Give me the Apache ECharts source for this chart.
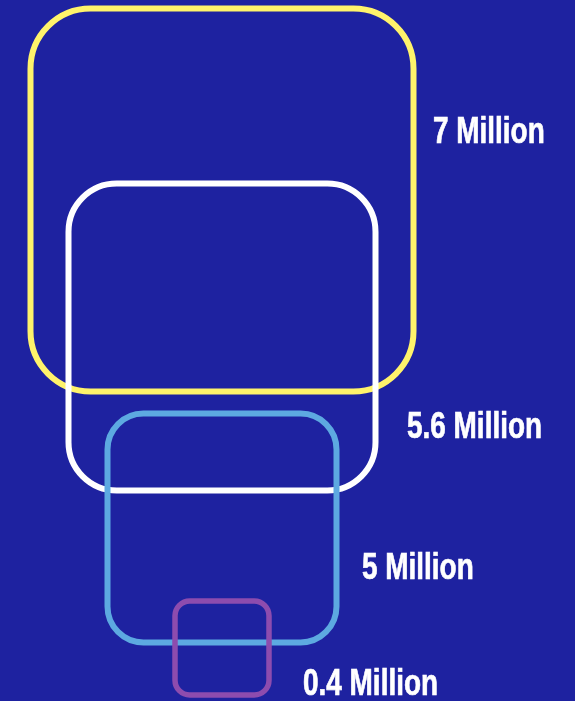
<!DOCTYPE html>
<html>
<head>
<meta charset="utf-8">
<script src="https://cdn.jsdelivr.net/npm/echarts@6/dist/echarts.min.js"></script>
<style>
html,body{margin:0;padding:0;background:#1E22A0;}
#chart{width:575px;height:701px;}
</style>
</head>
<body>
<div id="chart"></div>
<script>
// Labels and values
const labels = ['7 Million', '5.6 Million', '5 Million', '0.4 Million'];
const values = [7, 5.6, 5, 0.4];
// Box extents in hidden-axis units
const boxCenterX = [22.2, 22.2, 22.2, 22.2];
const boxCenterY = [20.0, 33.7, 52.8, 64.8];
const boxSide = [38.3, 30.7, 22.9, 9.4];
// Label anchors in hidden-axis units
const labelX = [43.3, 40.7, 36.2, 30.3];
const labelY = [13.25, 42.75, 56.85, 68.5];
const colors = ['#FFF36B', '#FFFFFF', '#5DA9E1', '#8D4CAE'];

const data = labels.map((l, i) => [boxCenterX[i], boxCenterY[i], boxSide[i], labelX[i], labelY[i], values[i]]);

const chart = echarts.init(document.getElementById('chart'));
chart.setOption({
  backgroundColor: '#1E22A0',
  animation: false,
  grid: {left: 0, right: 0, top: 0, bottom: 0},
  xAxis: {type: 'value', min: 0, max: 57.5, show: false},
  yAxis: {type: 'value', min: 0, max: 70.1, inverse: true, show: false},
  series: [{
    type: 'custom',
    coordinateSystem: 'cartesian2d',
    encode: {x: 0, y: 1},
    data: data,
    renderItem: function (params, api) {
      const i = params.dataIndex;
      const c = api.coord([api.value(0), api.value(1)]);
      const s = api.size([api.value(2), api.value(2)]);
      const lp = api.coord([api.value(3), api.value(4)]);
      const w = s[0], h = s[1];
      return {
        type: 'group',
        children: [{
          type: 'rect',
          shape: {x: c[0] - w / 2, y: c[1] - h / 2, width: w, height: h, r: w * 0.157},
          style: {fill: 'none', stroke: colors[i], lineWidth: i === 3 ? 5.5 : 6}
        }, {
          type: 'text',
          x: lp[0], y: lp[1],
          scaleX: 0.755, scaleY: 1,
          style: {
            text: labels[i],
            fill: '#FFFFFF',
            stroke: '#FFFFFF',
            lineWidth: 0.7,
            font: 'bold 37px "Liberation Sans", Arial, sans-serif',
            textAlign: 'left',
            textVerticalAlign: 'middle'
          }
        }]
      };
    }
  }]
});
</script>
</body>
</html>
